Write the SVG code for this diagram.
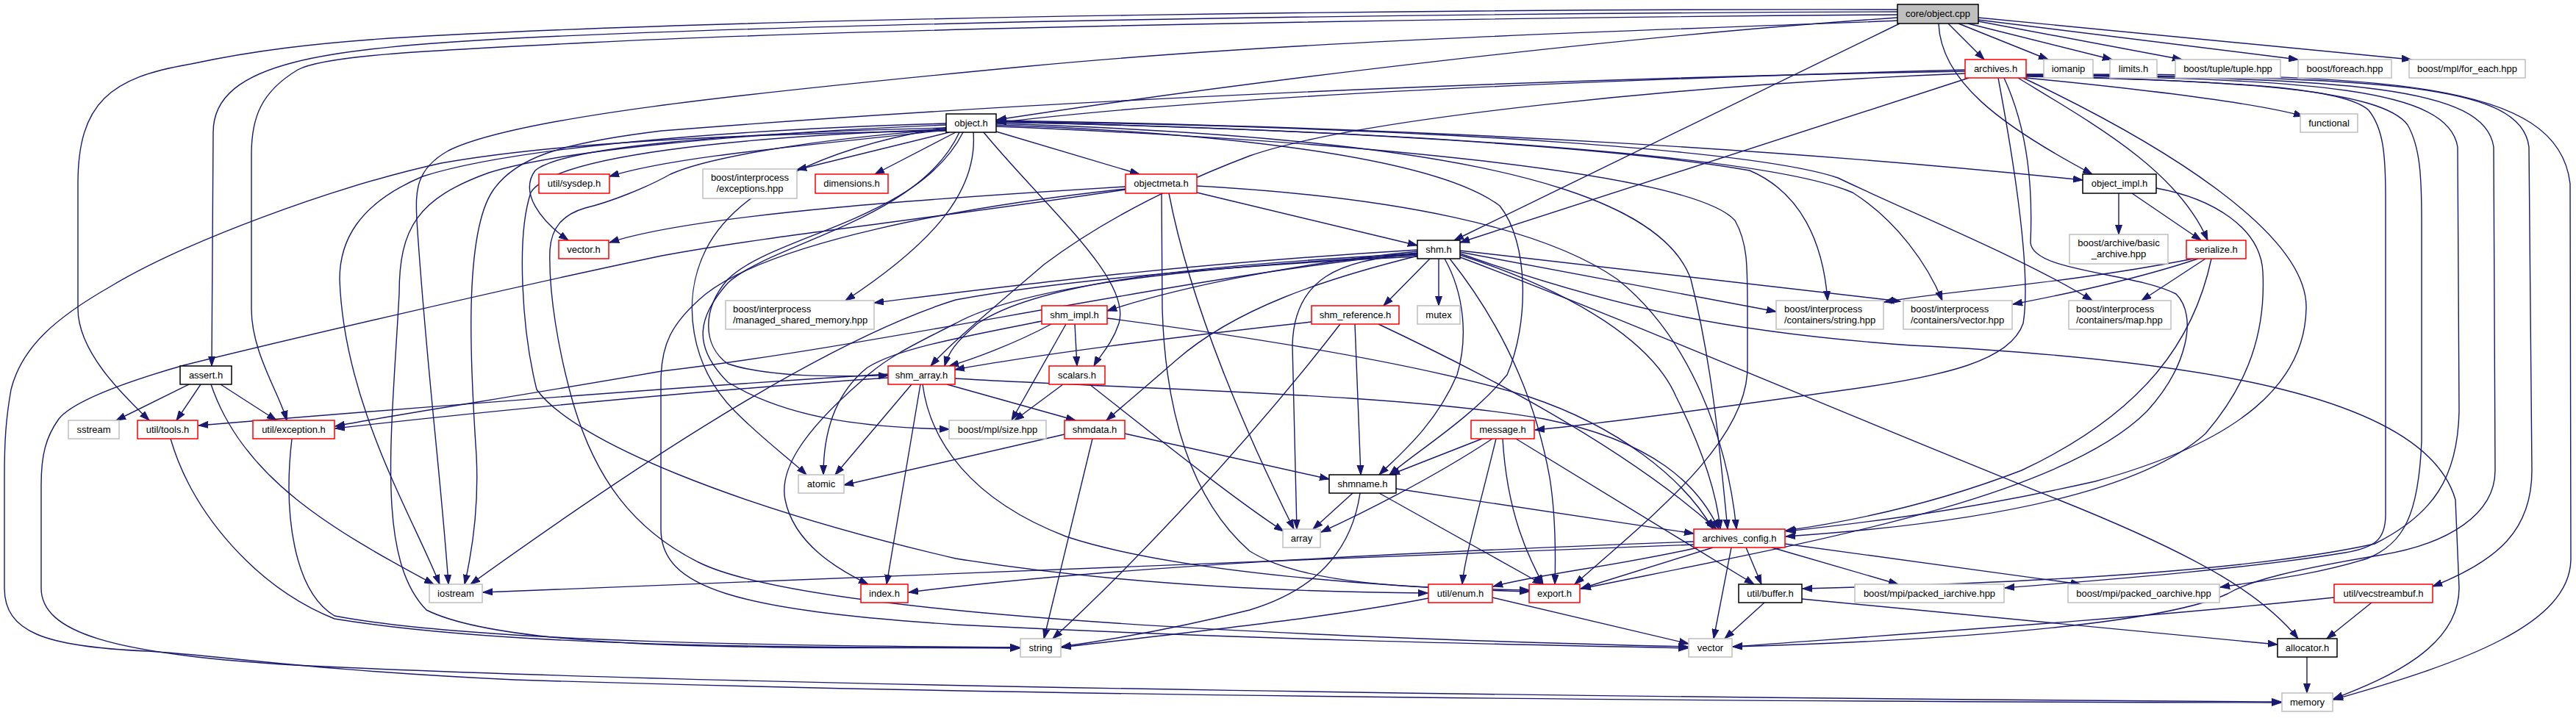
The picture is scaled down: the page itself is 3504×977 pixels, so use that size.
<svg xmlns="http://www.w3.org/2000/svg" width="3504" height="977" viewBox="0 0 3504 977">
<defs>
<style>
.n rect{stroke-width:1.5}
.g rect{fill:#fff;stroke:#bfbfbf}
.r rect{fill:#fff;stroke:#ff0000}
.b rect{fill:#fff;stroke:#000}
.root rect{fill:#bfbfbf;stroke:#000}
text{font-family:"Liberation Sans",Arial,Helvetica,sans-serif;font-size:13px;fill:#000;text-anchor:middle}
.l text{text-anchor:start}
#edges path{fill:none;stroke:#191970;stroke-width:1.4;marker-end:url(#arr)}
</style>
<marker id="arr" markerUnits="userSpaceOnUse" markerWidth="14" markerHeight="10" refX="13" refY="5" orient="auto"><path d="M0,0.5 L13,5 L0,9.5 z" fill="#191970" stroke="#191970" stroke-width="1"/></marker>
</defs>
<rect width="3504" height="977" fill="#fff"/>
<g id="edges">
<path d="M2581,24 C2200,50 1700,110 1356,163"/>
<path d="M2650,32 L2699,81"/>
<path d="M2664,32 L2786,81"/>
<path d="M2677,32 L2873,81"/>
<path d="M2691,29 L2968,81"/>
<path d="M2691,27 L3126,81"/>
<path d="M2691,24 L3280,81"/>
<path d="M2637,32 C2640,110 2720,170 2846,237"/>
<path d="M2584,32 L1978,327"/>
<path d="M2581,16 C2000,18 1200,28 700,52 C450,66 290,82 290,180 L288,498"/>
<path d="M2581,13 C2000,12 1100,22 600,48 C420,57 330,72 260,87 C150,105 106,140 106,250 L106,420 C106,480 170,540 203,572"/>
<path d="M2581,20 C2000,24 1200,38 800,58 C560,70 440,76 405,95 C355,125 342,160 342,210 L342,420 C342,480 380,535 390,572"/>
<path d="M2581,28 C2300,40 1800,52 1400,90 C1000,128 700,160 610,205 C565,230 565,260 567,300 C580,500 600,650 610,795"/>
<path d="M2673,95 C2300,105 1700,125 1356,167"/>
<path d="M2756,106 C2900,120 3060,138 3133,158"/>
<path d="M2678,106 L1986,330"/>
<path d="M2718,106 C2745,250 2762,380 2752,440 C2735,490 2650,512 2500,532 C2300,560 2160,578 2088,585"/>
<path d="M2726,106 C2760,180 2765,260 2762,330 C2765,370 2900,370 2960,400 C2990,430 2975,500 2920,560 C2800,680 2450,740 2151,801"/>
<path d="M2745,106 C2850,170 2962,232 3003,327"/>
<path d="M2752,106 C2950,200 3140,320 3137,420 C3135,520 3050,600 2850,655 C2650,700 2500,715 2430,723"/>
<path d="M2756,104 C3050,110 3190,120 3222,150 C3242,175 3245,210 3245,270 L3245,700 C3245,735 3230,745 3190,752 C3050,775 2850,790 2727,800"/>
<path d="M2756,103 C3050,110 3240,122 3275,170 C3292,200 3294,240 3294,300 L3294,600 C3290,700 3270,740 3220,760 C3150,782 3080,790 3020,799"/>
<path d="M2756,102 C3150,108 3330,120 3343,200 L3345,560 C3343,650 3310,700 3230,740 C3050,780 2700,795 2452,801"/>
<path d="M2756,102 C3200,106 3380,118 3392,200 L3394,640 C3394,700 3330,740 3240,755 C3120,775 3060,790 3030,808 C2950,845 2700,870 2357,880"/>
<path d="M2756,102 C3250,104 3430,115 3440,200 L3444,640 C3444,720 3400,762 3309,798"/>
<path d="M2756,101 C3250,100 3480,110 3496,250 L3497,760 C3497,850 3350,902 3174,952"/>
<path d="M2673,100 C2300,115 1850,160 1700,212 C1600,250 1500,300 1420,360 C1350,420 1290,470 1266,498"/>
<path d="M2673,97 C2200,105 1500,130 900,178 C760,195 700,215 670,260 C630,320 640,500 648,620 C652,700 640,760 632,795"/>
<path d="M1291,180 L1084,231"/>
<path d="M1300,180 L1190,237"/>
<path d="M1355,179 L1550,237"/>
<path d="M1324,180 C1330,260 1270,330 1150,409"/>
<path d="M1338,180 C1420,280 1540,380 1522,440 C1512,470 1495,485 1488,498"/>
<path d="M1310,180 C1250,300 1050,320 990,380 C955,420 955,470 990,495 C1050,515 1150,512 1208,511"/>
<path d="M1305,180 C1250,300 1050,330 990,385 C950,430 940,470 990,520 C1080,575 1200,582 1291,584"/>
<path d="M1290,173 C1120,200 1000,260 960,340 C925,410 940,500 1000,560 C1040,600 1075,625 1097,646"/>
<path d="M1287,168 C1000,176 700,200 575,240 C485,278 462,330 462,380 C468,550 560,700 598,795"/>
<path d="M1287,170 C1000,182 760,205 665,235 C568,270 543,310 543,400 C532,600 512,760 580,830 C700,890 1100,880 1387,882"/>
<path d="M1287,176 C1100,190 960,215 912,237 C880,255 830,275 796,283 C765,292 750,310 748,340 C746,400 760,480 780,550 C810,650 860,720 950,765 C1100,840 1800,868 2296,880"/>
<path d="M1287,178 C1000,182 750,195 600,222 C450,255 250,330 150,390 C80,430 30,470 15,530 C8,570 6,600 6,650 L6,800 C6,860 60,880 200,886 C300,892 420,912 700,925 C1500,950 2500,955 3103,956"/>
<path d="M1287,177 C1100,198 920,212 829,240"/>
<path d="M1287,174 C1000,180 765,200 728,232 C706,262 735,300 773,327"/>
<path d="M1355,170 C1650,180 1950,212 2040,280 C2080,330 2080,440 2050,510 C2000,570 1930,612 1890,646"/>
<path d="M1355,172 C1800,190 2300,232 2360,300 C2377,330 2377,360 2377,420 L2377,500 C2377,600 2250,700 2142,795"/>
<path d="M1355,166 C1800,175 2200,200 2380,232 C2450,262 2480,330 2486,409"/>
<path d="M1355,166 C1900,178 2400,210 2520,262 C2580,300 2622,360 2642,409"/>
<path d="M1355,165 C2000,174 2400,208 2500,242 C2600,290 2750,350 2846,409"/>
<path d="M1355,164 C2000,174 2500,210 2833,245"/>
<path d="M1355,168 C1900,185 2250,240 2300,380 C2330,500 2340,620 2350,720"/>
<path d="M1287,176 C1000,186 752,212 722,262 C702,322 710,450 730,530 C780,600 1000,690 1300,760 C1550,800 1800,806 1942,807"/>
<path d="M1531,254 C1300,268 950,290 829,330"/>
<path d="M1531,258 C1250,300 1050,320 900,348 C700,390 400,460 250,497 C170,520 100,545 80,570 C62,595 56,620 56,660 L56,800 C56,860 150,890 400,905 C1000,935 2300,950 3103,955"/>
<path d="M1531,257 C1300,282 1050,330 960,400 C912,440 899,470 899,520 L899,720 C899,800 1000,830 1300,850 C1700,870 2000,876 2296,882"/>
<path d="M1628,262 L1928,334"/>
<path d="M1628,253 C1900,268 2100,310 2200,380 C2300,460 2350,600 2362,720"/>
<path d="M1580,263 L1581,420 C1585,560 1620,680 1700,750 C1780,800 1950,800 2080,803"/>
<path d="M1590,263 C1620,420 1700,600 1760,720"/>
<path d="M1957,352 L1957,416"/>
<path d="M1945,352 L1882,416"/>
<path d="M1928,342 C1750,360 1600,392 1506,423"/>
<path d="M1928,340 C1600,360 1400,386 1189,412"/>
<path d="M1928,345 C1650,360 1420,380 1330,440 C1300,465 1290,480 1285,498"/>
<path d="M1928,347 C1650,362 1400,385 1300,440 C1240,470 1200,490 1170,520 C1090,590 1060,640 1068,680 C1080,740 1140,775 1181,795"/>
<path d="M1928,344 C1600,378 1200,470 900,505 C700,540 550,562 456,580"/>
<path d="M1928,349 C1700,360 1450,380 1300,408 C1100,470 800,680 640,795"/>
<path d="M1986,343 L2416,424"/>
<path d="M1986,341 L2585,410"/>
<path d="M1928,346 C1820,352 1760,380 1758,470 L1764,720"/>
<path d="M1965,352 C1992,400 1997,460 1982,510 C1952,580 1902,620 1876,646"/>
<path d="M1986,347 C2150,400 2250,470 2280,540 C2320,620 2336,680 2340,720"/>
<path d="M1972,352 C2050,450 2090,550 2108,650 C2116,700 2116,760 2115,795"/>
<path d="M1986,350 C2200,430 2500,560 2800,680 C3000,760 3080,812 3126,869"/>
<path d="M1986,345 C2200,420 2350,452 2600,470 C3000,490 3300,540 3340,680 L3345,800 C3345,880 3250,922 3174,951"/>
<path d="M1929,348 C1800,380 1680,420 1600,490 C1560,525 1530,550 1505,572"/>
<path d="M1430,441 C1380,468 1320,490 1291,498"/>
<path d="M1462,441 L1465,498"/>
<path d="M1450,441 L1376,572"/>
<path d="M1506,433 C1750,465 1950,500 2080,540 C2200,580 2290,650 2330,720"/>
<path d="M1417,437 C1300,460 1220,475 1180,500 C1130,540 1120,600 1120,646"/>
<path d="M1784,438 C1600,458 1400,484 1299,503"/>
<path d="M1843,441 L1851,646"/>
<path d="M1823,441 C1700,600 1550,760 1432,869"/>
<path d="M1875,441 C2000,500 2200,600 2335,720"/>
<path d="M1208,509 C900,528 500,560 270,579"/>
<path d="M1208,514 C1000,528 700,555 456,583"/>
<path d="M1240,523 L1136,646"/>
<path d="M1252,523 L1206,795"/>
<path d="M1288,523 L1463,572"/>
<path d="M1299,515 C1550,530 1900,535 2100,570 C2250,600 2310,660 2338,720"/>
<path d="M1255,523 C1265,600 1320,680 1450,730 C1600,780 1900,800 2080,805"/>
<path d="M1446,523 L1380,572"/>
<path d="M1482,523 C1580,600 1680,680 1746,723"/>
<path d="M1448,591 L1148,660"/>
<path d="M1486,597 L1420,869"/>
<path d="M1530,590 L1808,652"/>
<path d="M2016,597 L1891,646"/>
<path d="M2030,597 C1950,650 1850,700 1797,724"/>
<path d="M2035,597 C2010,700 1992,760 1989,795"/>
<path d="M2044,597 C2050,700 2080,760 2099,795"/>
<path d="M2062,597 L2386,795"/>
<path d="M1840,671 L1786,720"/>
<path d="M1850,671 C1840,740 1800,800 1700,830 C1600,855 1500,872 1444,880"/>
<path d="M1876,671 L2098,795"/>
<path d="M1899,665 L2304,726"/>
<path d="M2304,741 C1800,762 1000,790 657,806"/>
<path d="M2304,737 C1900,752 1500,772 1236,806"/>
<path d="M2310,745 C2200,770 2100,780 2031,798"/>
<path d="M2330,745 L2150,801"/>
<path d="M2355,745 L2331,869"/>
<path d="M2375,745 L2396,795"/>
<path d="M2410,745 L2582,795"/>
<path d="M2428,740 L2830,795"/>
<path d="M1943,814 C1800,842 1600,862 1444,881"/>
<path d="M2030,813 L2297,876"/>
<path d="M2400,820 L2346,869"/>
<path d="M2451,815 L3098,877"/>
<path d="M3175,813 C2900,842 2600,862 2357,880"/>
<path d="M3226,820 L3165,869"/>
<path d="M3138,894 L3138,943"/>
<path d="M257,523 L158,572"/>
<path d="M273,523 L240,572"/>
<path d="M300,523 L376,572"/>
<path d="M287,523 C330,650 450,720 590,795"/>
<path d="M232,597 C262,700 350,800 455,842 C700,882 1100,881 1387,881"/>
<path d="M397,597 C385,700 400,805 455,838 C650,875 1100,879 1387,881"/>
<path d="M2882,263 L2882,319"/>
<path d="M2900,263 L2994,327"/>
<path d="M2933,256 C3010,270 3075,310 3078,370 C3082,450 3060,520 3000,590 C2900,680 2650,715 2429,730"/>
<path d="M2990,352 C2900,382 2800,402 2738,414"/>
<path d="M3000,352 L2913,409"/>
<path d="M2984,352 C2800,388 2650,395 2563,411"/>
<path d="M3008,352 C2985,460 2920,560 2750,640 C2620,690 2500,712 2429,722"/>
</g>
<g id="n_core" class="n root"><rect x="2581" y="6" width="110" height="26"/><text x="2636" y="23">core/object.cpp</text></g>
<g id="n_archives" class="n r"><rect x="2673" y="81" width="83" height="25"/><text x="2714.5" y="98">archives.h</text></g>
<g id="n_iomanip" class="n g"><rect x="2780" y="81" width="67" height="25"/><text x="2813.5" y="98">iomanip</text></g>
<g id="n_limits" class="n g"><rect x="2870" y="81" width="64" height="25"/><text x="2902" y="98">limits.h</text></g>
<g id="n_tuple" class="n g"><rect x="2959" y="81" width="143" height="25"/><text x="3030.5" y="98">boost/tuple/tuple.hpp</text></g>
<g id="n_foreach" class="n g"><rect x="3126" y="81" width="127" height="25"/><text x="3189.5" y="98">boost/foreach.hpp</text></g>
<g id="n_for_each" class="n g"><rect x="3277" y="81" width="158" height="25"/><text x="3356" y="98">boost/mpl/for_each.hpp</text></g>
<g id="n_object_h" class="n b"><rect x="1287" y="155" width="68" height="25"/><text x="1321" y="172">object.h</text></g>
<g id="n_functional" class="n g"><rect x="3129" y="155" width="78" height="25"/><text x="3168" y="172">functional</text></g>
<g id="n_sysdep" class="n r"><rect x="733" y="237" width="96" height="26"/><text x="781" y="254">util/sysdep.h</text></g>
<g id="n_exceptions" class="n g"><rect x="956" y="230" width="128" height="40"/><text x="1020" y="246">boost/interprocess</text><text x="1020" y="261">/exceptions.hpp</text></g>
<g id="n_dimensions" class="n r"><rect x="1109" y="237" width="99" height="26"/><text x="1158.5" y="254">dimensions.h</text></g>
<g id="n_objectmeta" class="n r"><rect x="1531" y="237" width="97" height="26"/><text x="1579.5" y="254">objectmeta.h</text></g>
<g id="n_object_impl" class="n b"><rect x="2833" y="237" width="100" height="26"/><text x="2883" y="254">object_impl.h</text></g>
<g id="n_vector_h" class="n r"><rect x="760" y="327" width="68" height="25"/><text x="794" y="344">vector.h</text></g>
<g id="n_shm" class="n b"><rect x="1928" y="327" width="58" height="25"/><text x="1957" y="344">shm.h</text></g>
<g id="n_basic_archive" class="n g"><rect x="2815" y="319" width="134" height="40"/><text x="2882" y="335">boost/archive/basic</text><text x="2882" y="350">_archive.hpp</text></g>
<g id="n_serialize" class="n r"><rect x="2974" y="327" width="81" height="25"/><text x="3014.5" y="344">serialize.h</text></g>
<g id="n_msm" class="n g l"><rect x="987" y="409" width="202" height="39"/><text x="997" y="425">boost/interprocess</text><text x="997" y="440">/managed_shared_memory.hpp</text></g>
<g id="n_shm_impl" class="n r"><rect x="1417" y="416" width="89" height="25"/><text x="1461.5" y="433">shm_impl.h</text></g>
<g id="n_shm_reference" class="n r"><rect x="1784" y="416" width="119" height="25"/><text x="1843.5" y="433">shm_reference.h</text></g>
<g id="n_mutex" class="n g"><rect x="1928" y="416" width="58" height="25"/><text x="1957" y="433">mutex</text></g>
<g id="n_c_string" class="n g l"><rect x="2416" y="409" width="146" height="39"/><text x="2427" y="425">boost/interprocess</text><text x="2427" y="440">/containers/string.hpp</text></g>
<g id="n_c_vector" class="n g l"><rect x="2589" y="409" width="148" height="39"/><text x="2599" y="425">boost/interprocess</text><text x="2599" y="440">/containers/vector.hpp</text></g>
<g id="n_c_map" class="n g l"><rect x="2814" y="409" width="139" height="39"/><text x="2824" y="425">boost/interprocess</text><text x="2824" y="440">/containers/map.hpp</text></g>
<g id="n_assert" class="n b"><rect x="245" y="498" width="70" height="25"/><text x="280" y="515">assert.h</text></g>
<g id="n_shm_array" class="n r"><rect x="1208" y="498" width="91" height="25"/><text x="1253.5" y="515">shm_array.h</text></g>
<g id="n_scalars" class="n r"><rect x="1427" y="498" width="76" height="25"/><text x="1465" y="515">scalars.h</text></g>
<g id="n_sstream" class="n g"><rect x="93" y="572" width="69" height="25"/><text x="127.5" y="589">sstream</text></g>
<g id="n_tools" class="n r"><rect x="187" y="572" width="82" height="25"/><text x="228" y="589">util/tools.h</text></g>
<g id="n_exception" class="n r"><rect x="344" y="572" width="111" height="25"/><text x="399.5" y="589">util/exception.h</text></g>
<g id="n_mpl_size" class="n g"><rect x="1291" y="572" width="132" height="25"/><text x="1357" y="589">boost/mpl/size.hpp</text></g>
<g id="n_shmdata" class="n r"><rect x="1448" y="572" width="82" height="25"/><text x="1489" y="589">shmdata.h</text></g>
<g id="n_message" class="n r"><rect x="2001" y="572" width="86" height="25"/><text x="2044" y="589">message.h</text></g>
<g id="n_atomic" class="n g"><rect x="1086" y="646" width="62" height="25"/><text x="1117" y="663">atomic</text></g>
<g id="n_shmname" class="n b"><rect x="1808" y="646" width="91" height="25"/><text x="1853.5" y="663">shmname.h</text></g>
<g id="n_array" class="n g"><rect x="1745" y="720" width="51" height="25"/><text x="1770.5" y="737">array</text></g>
<g id="n_archives_config" class="n r"><rect x="2304" y="720" width="124" height="25"/><text x="2366" y="737">archives_config.h</text></g>
<g id="n_iostream" class="n g"><rect x="584" y="795" width="72" height="25"/><text x="620" y="812">iostream</text></g>
<g id="n_index" class="n r"><rect x="1171" y="795" width="64" height="25"/><text x="1203" y="812">index.h</text></g>
<g id="n_enum" class="n r"><rect x="1943" y="795" width="87" height="25"/><text x="1986.5" y="812">util/enum.h</text></g>
<g id="n_export" class="n r"><rect x="2080" y="795" width="69" height="25"/><text x="2114.5" y="812">export.h</text></g>
<g id="n_buffer" class="n b"><rect x="2365" y="795" width="86" height="25"/><text x="2408" y="812">util/buffer.h</text></g>
<g id="n_p_iarchive" class="n g"><rect x="2523" y="795" width="203" height="25"/><text x="2624.5" y="812">boost/mpi/packed_iarchive.hpp</text></g>
<g id="n_p_oarchive" class="n g"><rect x="2813" y="795" width="206" height="25"/><text x="2916" y="812">boost/mpi/packed_oarchive.hpp</text></g>
<g id="n_vecstreambuf" class="n r"><rect x="3175" y="795" width="134" height="25"/><text x="3242" y="812">util/vecstreambuf.h</text></g>
<g id="n_string" class="n g"><rect x="1388" y="869" width="55" height="25"/><text x="1415.5" y="886">string</text></g>
<g id="n_vector" class="n g"><rect x="2297" y="869" width="59" height="25"/><text x="2326.5" y="886">vector</text></g>
<g id="n_allocator" class="n b"><rect x="3098" y="869" width="81" height="25"/><text x="3138.5" y="886">allocator.h</text></g>
<g id="n_memory" class="n g"><rect x="3104" y="943" width="69" height="25"/><text x="3138.5" y="960">memory</text></g>
</svg>
